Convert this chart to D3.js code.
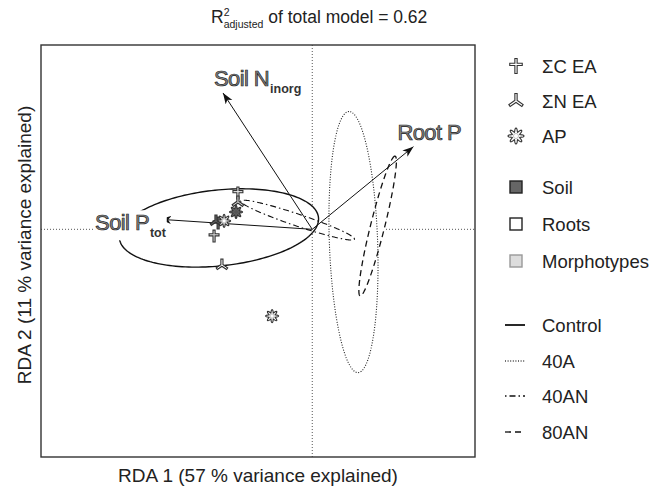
<!DOCTYPE html>
<html>
<head>
<meta charset="utf-8">
<script src="https://cdn.jsdelivr.net/npm/d3@7"></script>
<style>
  body { margin: 0; background: #fff; }
  svg { display: block; font-family: "Liberation Sans", Arial, sans-serif; }
</style>
</head>
<body>
<div id="chart"></div>
<script>
// response variables and sample types
const variables = ["ΣC EA", "ΣN EA", "AP"];
const sampleTypes = ["Soil", "Roots", "Morphotypes"];
const treatments = ["Control", "40A", "40AN", "80AN"];

// site scores on RDA 1 / RDA 2
const pointVar = ["ΣC EA", "ΣN EA", "AP", "ΣC EA", "ΣN EA", "AP", "ΣC EA", "ΣN EA", "AP"];
const pointType = ["Roots", "Roots", "Roots", "Soil", "Soil", "Soil", "Morphotypes", "Morphotypes", "Morphotypes"];
const pointRDA1 = [-0.274, -0.333, -0.148, -0.347, -0.355, -0.281, -0.362, -0.274, -0.325];
const pointRDA2 = [0.134, -0.132, -0.320, 0.023, 0.031, 0.064, -0.025, 0.101, 0.031];

// explanatory vectors
const arrowName = ["Soil N", "Root P", "Soil P"];
const arrowSub = ["inorg", "", "tot"];
const arrowRDA1 = [-0.329, 0.373, -0.561];
const arrowRDA2 = [0.503, 0.305, 0.037];

// treatment ellipses: centre, semi-axes, rotation (deg)
const ellCX = [-0.344, 0.152, -0.054, 0.241];
const ellCY = [0.005, -0.047, 0.034, 0.012];
const ellA = [0.369, 0.482, 0.221, 0.266];
const ellB = [0.140, 0.089, 0.022, 0.026];
const ellAngle = [6, 92, -18.6, 76];

const width = 656, height = 488;
const box = { left: 41, right: 475, top: 45, bottom: 457 };

const x = d3.scaleLinear().domain([-1.0, 0.6]).range([box.left, box.right]);
const y = d3.scaleLinear().domain([-0.84, 0.68]).range([box.bottom, box.top]);

const typeFill = { Soil: "#666", Roots: "#fff", Morphotypes: "#ddd" };
const dashes = { Control: null, "40A": "1,1.6", "40AN": "1.5,3,6,3", "80AN": "6,4" };
const lineWidth = { Control: 1.4, "40A": 1.1, "40AN": 1.1, "80AN": 1.3 };

const svg = d3.select("#chart").append("svg")
  .attr("width", width).attr("height", height);

// title
const title = svg.append("text").attr("x", 211).attr("y", 23)
  .attr("font-size", 17.5).attr("fill", "#222");
title.append("tspan").text("R");
title.append("tspan").attr("font-size", 10.5).attr("dy", -7).text("2");
title.append("tspan").attr("font-size", 10.5).attr("dx", -5.8).attr("dy", 12).text("adjusted");
title.append("tspan").attr("dy", -5).text(" of total model = 0.62");

// axis titles
svg.append("text")
  .attr("x", (box.left + box.right) / 2).attr("y", 482)
  .attr("text-anchor", "middle").attr("font-size", 19).attr("fill", "#222")
  .text("RDA 1 (57 % variance explained)");
svg.append("text")
  .attr("transform", `translate(31,${(box.top + box.bottom) / 2 - 6}) rotate(-90)`)
  .attr("text-anchor", "middle").attr("font-size", 19).attr("fill", "#222")
  .text("RDA 2 (11 % variance explained)");

const plot = svg.append("g");

// origin lines
plot.append("line")
  .attr("x1", x(0)).attr("x2", x(0)).attr("y1", box.top).attr("y2", box.bottom)
  .attr("stroke", "#555").attr("stroke-dasharray", "1,2");
plot.append("line")
  .attr("x1", box.left).attr("x2", box.right).attr("y1", y(0)).attr("y2", y(0))
  .attr("stroke", "#555").attr("stroke-dasharray", "1,2");

// ellipses
function ellipsePts(i) {
  const phi = ellAngle[i] * Math.PI / 180;
  return d3.range(0, 2 * Math.PI, Math.PI / 90).map((t) => {
    const ex = ellA[i] * Math.cos(t), ey = ellB[i] * Math.sin(t);
    return [
      x(ellCX[i] + ex * Math.cos(phi) - ey * Math.sin(phi)),
      y(ellCY[i] + ex * Math.sin(phi) + ey * Math.cos(phi))
    ];
  });
}
const ellLine = d3.line().curve(d3.curveLinearClosed);

plot.append("g").selectAll("path").data(treatments).join("path")
  .attr("d", (d, i) => ellLine(ellipsePts(i)))
  .attr("fill", "#fff").attr("stroke", "none");
plot.append("g").selectAll("path").data(treatments).join("path")
  .attr("d", (d, i) => ellLine(ellipsePts(i)))
  .attr("fill", "none")
  .attr("stroke", (d) => d === "40A" ? "#222" : "#111")
  .attr("stroke-width", (d) => lineWidth[d])
  .attr("stroke-dasharray", (d) => dashes[d]);

// arrows
svg.append("defs").append("marker")
  .attr("id", "head").attr("markerUnits", "userSpaceOnUse")
  .attr("markerWidth", 12).attr("markerHeight", 10)
  .attr("refX", 11).attr("refY", 4).attr("orient", "auto")
  .append("path").attr("d", "M0,0 L11,4 L0,8 L3,4 Z").attr("fill", "#111");

plot.append("g").selectAll("line").data(arrowName).join("line")
  .attr("x1", x(0)).attr("y1", y(0))
  .attr("x2", (d, i) => x(arrowRDA1[i])).attr("y2", (d, i) => y(arrowRDA2[i]))
  .attr("stroke", "#111").attr("stroke-width", 1)
  .attr("marker-end", "url(#head)");

// markers
function drawMarker(g, v, fill, s) {
  if (v === "AP") {
    const pts = d3.range(0, 2 * Math.PI, Math.PI / 48).map((t) => {
      const r = s * (0.75 + 0.25 * Math.cos(8 * t));
      return [r * Math.cos(t), r * Math.sin(t)];
    });
    g.append("path").attr("d", ellLine(pts))
      .attr("fill", fill).attr("stroke", "#333").attr("stroke-width", 1.1);
    g.append("circle").attr("r", s * 0.32)
      .attr("fill", fill === "#666" ? "#555" : "#fff")
      .attr("stroke", fill === "#666" ? "none" : "#999").attr("stroke-width", 0.6);
    return;
  }
  let segs;
  if (v === "ΣC EA") {
    const yc = -0.2 * s;
    segs = [[[0, yc], [0, -s]], [[0, yc], [0, s]], [[0, yc], [-0.85 * s, yc]], [[0, yc], [0.85 * s, yc]]];
  } else {
    segs = [[[0, 0], [0, -s]], [[0, 0], [-0.87 * s, 0.6 * s]], [[0, 0], [0.87 * s, 0.6 * s]]];
  }
  const outer = Math.max(3.2, s * 0.42), inner = outer - 2.2;
  const shorten = 1.1;
  const path = (cut) => segs.map(([a, b]) => {
    const dx = b[0] - a[0], dy = b[1] - a[1], len = Math.hypot(dx, dy);
    const k = (len - cut) / len;
    return `M${a[0]},${a[1]}L${a[0] + dx * k},${a[1] + dy * k}`;
  }).join("");
  g.append("path").attr("d", path(0)).attr("fill", "none")
    .attr("stroke", "#333").attr("stroke-width", outer).attr("stroke-linecap", "butt");
  g.append("path").attr("d", path(shorten)).attr("fill", "none")
    .attr("stroke", fill).attr("stroke-width", inner).attr("stroke-linecap", "butt");
}

pointVar.forEach((v, i) => {
  const g = plot.append("g")
    .attr("transform", `translate(${x(pointRDA1[i])},${y(pointRDA2[i])})`);
  drawMarker(g, v, typeFill[pointType[i]], 6.5);
});

// arrow labels
const labelOffset = { "Soil N": [-9, -7], "Root P": [-16, -7], "Soil P": [-65, 11] };
arrowName.forEach((name, i) => {
  const [ox, oy] = labelOffset[name];
  const lx = x(arrowRDA1[i]) + ox, ly = y(arrowRDA2[i]) + oy;
  const bg = plot.append("rect").attr("fill", "#fff");
  const t = plot.append("text").attr("x", lx).attr("y", ly);
  t.append("tspan").text(name)
    .attr("font-size", 22).attr("fill", "#888").attr("stroke", "#222").attr("stroke-width", 0.7)
    .attr("letter-spacing", -0.6);
  if (arrowSub[i]) {
    t.append("tspan").text(arrowSub[i]).attr("dy", 7).attr("dx", 1)
      .attr("font-size", 12.5).attr("font-weight", "bold").attr("fill", "#333");
  }
  if (name === "Soil P") {
    const b = t.node().getBBox();
    bg.attr("x", b.x).attr("y", b.y).attr("width", b.width).attr("height", b.height);
  } else {
    bg.remove();
  }
});

// frame
svg.append("rect")
  .attr("x", box.left).attr("y", box.top)
  .attr("width", box.right - box.left).attr("height", box.bottom - box.top)
  .attr("fill", "none").attr("stroke", "#333").attr("stroke-width", 1.4);

// legend
const legX = 516, legTextX = 542;
const legend = svg.append("g").attr("font-size", 18.5).attr("fill", "#222");
const varRows = [66, 101, 136];
const typeRows = [187, 224, 261];
const treatRows = [325, 361, 396, 432];

variables.forEach((v, i) => {
  const g = legend.append("g").attr("transform", `translate(${legX},${varRows[i]})`);
  drawMarker(g, v, "#fff", 8);
  legend.append("text").attr("x", legTextX).attr("y", varRows[i]).attr("dy", "0.36em").text(v);
});
sampleTypes.forEach((s, i) => {
  legend.append("rect")
    .attr("x", legX - 6).attr("y", typeRows[i] - 6).attr("width", 12).attr("height", 12)
    .attr("fill", typeFill[s])
    .attr("stroke", s === "Morphotypes" ? "#999" : "#222").attr("stroke-width", 1.4);
  legend.append("text").attr("x", legTextX).attr("y", typeRows[i]).attr("dy", "0.36em").text(s);
});
treatments.forEach((t, i) => {
  legend.append("line")
    .attr("x1", 505).attr("x2", 525).attr("y1", treatRows[i]).attr("y2", treatRows[i])
    .attr("stroke", t === "40A" ? "#444" : "#111")
    .attr("stroke-width", t === "Control" ? 1.8 : 1.3)
    .attr("stroke-dasharray", dashes[t]);
  legend.append("text").attr("x", legTextX).attr("y", treatRows[i]).attr("dy", "0.36em").text(t);
});
</script>
</body>
</html>
